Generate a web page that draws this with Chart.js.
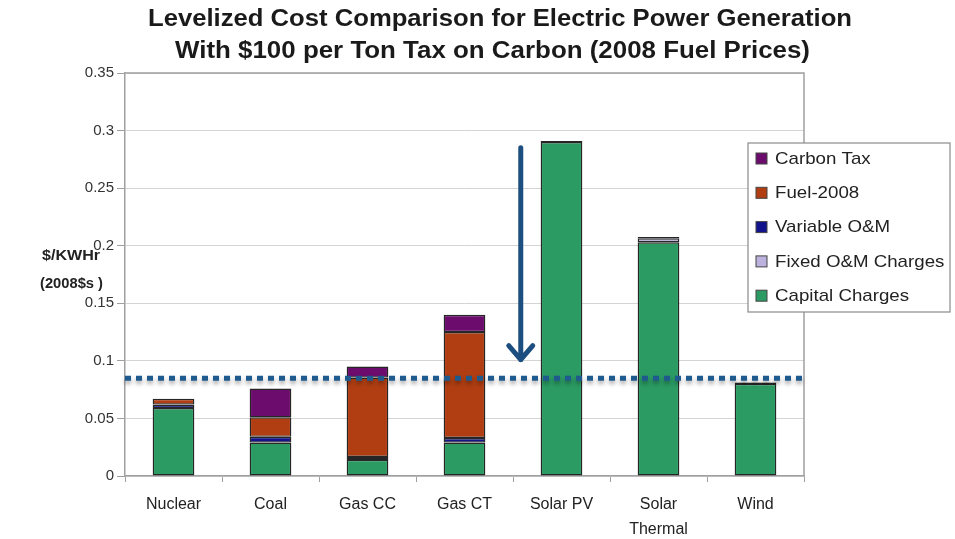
<!DOCTYPE html>
<html>
<head>
<meta charset="utf-8">
<script src="https://cdn.jsdelivr.net/npm/chart.js@4.4.1/dist/chart.umd.min.js"></script>
<style>
  html, body { margin: 0; padding: 0; background: #fff; }
  #wrap { width: 955px; height: 539px; position: relative; }
</style>
</head>
<body>
<div id="wrap"><canvas id="costChart" width="955" height="539"></canvas></div>
<script>
// levelized cost, $/kWh (2008$), by generation technology
const technologies = ['Nuclear', 'Coal', 'Gas CC', 'Gas CT', 'Solar PV', ['Solar', 'Thermal'], 'Wind'];
const capitalCharges = [0.059, 0.029, 0.014, 0.029, 0.290, 0.203, 0.080];
const fixedOM        = [0, 0, 0, 0, 0.001, 0.0035, 0.001];
const variableOM     = [0.003, 0.005, 0.0025, 0.004, 0, 0.001, 0.0005];
const fuel2008       = [0.005, 0.017, 0.069, 0.092, 0, 0, 0];
const carbonTax      = [0, 0.025, 0.0095, 0.015, 0, 0, 0];
const yTicks = [0, 0.05, 0.1, 0.15, 0.2, 0.25, 0.3, 0.35];

// reference level and the arrow pointing down to it
const referenceCost = 0.085;
const arrowFrom = 0.285;
const arrowTo = 0.101;
const arrowSlot = 3.58; // between Gas CT and Solar PV

const titleLines = ['Levelized Cost Comparison for Electric Power Generation',
                    'With $100 per Ton Tax on Carbon (2008 Fuel Prices)'];
const yTitle = ['$/KWHr', '(2008$s )'];

const FONT = '"Liberation Sans", Arial, sans-serif';

function ds(label, data, color) {
  return {
    label: label,
    data: data,
    backgroundColor: color,
    borderColor: '#262626',
    borderWidth: 1.4,
    borderSkipped: false
  };
}

// draw text stretched to span [x0, x1]
function fitText(ctx, text, x0, x1, y) {
  const w = ctx.measureText(text).width;
  ctx.save();
  ctx.translate(x0, y);
  ctx.scale((x1 - x0) / w, 1);
  ctx.fillText(text, 0, 0);
  ctx.restore();
}

const overlay = {
  id: 'overlay',
  afterDraw(chart) {
    const ctx = chart.ctx;
    const area = chart.chartArea;
    const x = chart.scales.x, y = chart.scales.y;

    // frame on top and right
    ctx.save();
    ctx.strokeStyle = '#a0a0a0';
    ctx.lineWidth = 1.5;
    ctx.beginPath();
    ctx.moveTo(area.left, area.top);
    ctx.lineTo(area.right, area.top);
    ctx.lineTo(area.right, area.bottom);
    ctx.stroke();
    ctx.restore();

    // title
    ctx.save();
    ctx.fillStyle = '#1a1a1a';
    ctx.font = 'bold 23px ' + FONT;
    ctx.textAlign = 'left';
    ctx.textBaseline = 'middle';
    fitText(ctx, titleLines[0], 148, 852, 20);
    fitText(ctx, titleLines[1], 175, 810, 52);
    ctx.restore();

    // y axis title
    ctx.save();
    ctx.fillStyle = '#222';
    ctx.font = 'bold 14px ' + FONT;
    ctx.textBaseline = 'middle';
    fitText(ctx, yTitle[0], 42, 100, 256);
    fitText(ctx, yTitle[1], 40, 103, 284);
    ctx.restore();

    // dotted reference line with a soft shadow
    const ly = y.getPixelForValue(referenceCost);
    ctx.save();
    ctx.strokeStyle = '#1f5a8e';
    ctx.lineWidth = 5;
    ctx.setLineDash([6, 5]);
    ctx.shadowColor = 'rgba(0,0,0,0.35)';
    ctx.shadowBlur = 4;
    ctx.shadowOffsetY = 3;
    ctx.beginPath();
    ctx.moveTo(area.left, ly);
    ctx.lineTo(area.right, ly);
    ctx.stroke();
    ctx.restore();

    // arrow
    const x0 = x.getPixelForValue(Math.floor(arrowSlot));
    const x1 = x.getPixelForValue(Math.floor(arrowSlot) + 1);
    const ax = x0 + (arrowSlot - Math.floor(arrowSlot)) * (x1 - x0);
    const ay0 = y.getPixelForValue(arrowFrom);
    const ay1 = y.getPixelForValue(arrowTo);
    ctx.save();
    ctx.strokeStyle = '#1c4f7f';
    ctx.lineWidth = 5;
    ctx.lineCap = 'round';
    ctx.lineJoin = 'round';
    ctx.beginPath();
    ctx.moveTo(ax, ay0);
    ctx.lineTo(ax, ay1);
    ctx.moveTo(ax - 12, ay1 - 14);
    ctx.lineTo(ax, ay1);
    ctx.lineTo(ax + 12, ay1 - 14);
    ctx.stroke();
    ctx.restore();

    // legend box, top series first
    const items = chart.data.datasets.slice().reverse();
    const bx = 748, by = 143, bw = 202, bh = 169;
    ctx.save();
    ctx.fillStyle = '#fff';
    ctx.fillRect(bx, by, bw, bh);
    ctx.strokeStyle = '#8a8a8a';
    ctx.lineWidth = 1.2;
    ctx.strokeRect(bx, by, bw, bh);
    ctx.font = '17px ' + FONT;
    ctx.textBaseline = 'middle';
    items.forEach((d, i) => {
      const cy = 158 + i * 34.3;
      ctx.fillStyle = d.backgroundColor;
      ctx.fillRect(756, cy - 5, 11, 11);
      ctx.strokeStyle = '#444';
      ctx.lineWidth = 1;
      ctx.strokeRect(756, cy - 5, 11, 11);
      ctx.fillStyle = '#222';
      const w = ctx.measureText(d.label).width;
      ctx.save();
      ctx.translate(775, cy + 1);
      ctx.scale(1.1, 1);
      ctx.fillText(d.label, 0, 0);
      ctx.restore();
    });
    ctx.restore();
  }
};

new Chart(document.getElementById('costChart'), {
  type: 'bar',
  data: {
    labels: technologies,
    datasets: [
      ds('Capital Charges', capitalCharges, '#2b9b63'),
      ds('Fixed O&M Charges', fixedOM, '#bdb2de'),
      ds('Variable O&M', variableOM, '#12128c'),
      ds('Fuel-2008', fuel2008, '#b03e12'),
      ds('Carbon Tax', carbonTax, '#6c0c6c')
    ]
  },
  options: {
    responsive: false,
    animation: false,
    layout: { padding: { top: 73, right: 151, left: 0, bottom: 0 } },
    datasets: { bar: { barPercentage: 0.43, categoryPercentage: 1 } },
    plugins: {
      legend: { display: false },
      title: { display: false },
      tooltip: { enabled: false }
    },
    scales: {
      x: {
        stacked: true,
        afterFit: s => { s.height = 63; },
        grid: { drawOnChartArea: false, offset: true, tickLength: 6, color: '#a0a0a0' },
        border: { color: '#a0a0a0', width: 1.5 },
        ticks: {
          color: '#222',
          font: { family: FONT, size: 16, lineHeight: 1.55 },
          padding: 10,
          maxRotation: 0
        }
      },
      y: {
        stacked: true,
        min: 0,
        max: 0.35,
        afterFit: s => { s.width = 125; },
        afterBuildTicks: s => { s.ticks = yTicks.map(v => ({ value: v })); },
        grid: { color: '#d4d4d4', tickLength: 8, tickColor: '#a0a0a0' },
        border: { color: '#a0a0a0', width: 1.5 },
        ticks: {
          color: '#333',
          font: { family: FONT, size: 15 },
          padding: 3,
          callback: v => String(+v.toFixed(2))
        }
      }
    }
  },
  plugins: [overlay]
});
</script>
</body>
</html>
